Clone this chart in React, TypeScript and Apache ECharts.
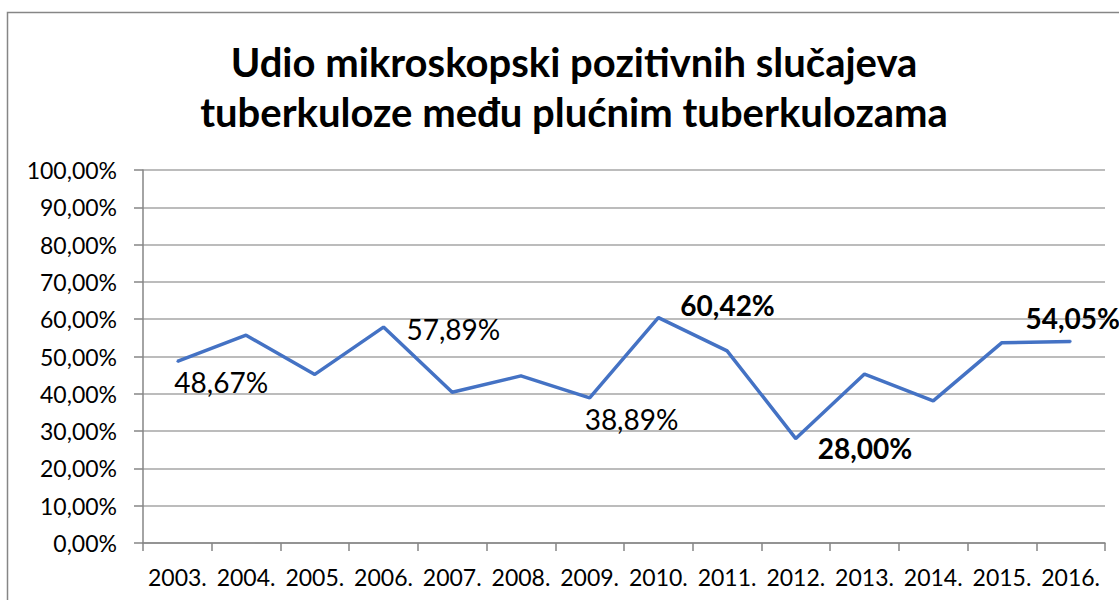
import React, { useEffect, useRef } from "react";
import * as echarts from "echarts";

const categories = ["2003.", "2004.", "2005.", "2006.", "2007.", "2008.", "2009.", "2010.", "2011.", "2012.", "2013.", "2014.", "2015.", "2016."];
const values = [48.67, 55.7, 45.2, 57.89, 40.4, 44.8, 38.89, 60.42, 51.5, 28.0, 45.3, 38.1, 53.7, 54.05];
const yTicks = [0, 10, 20, 30, 40, 50, 60, 70, 80, 90, 100];

const fmt = (v: number) => v.toFixed(2).replace(".", ",") + "%";

const labelCfg: Record<number, any> = {
  0: { position: "bottom", align: "left", distance: 6, offset: [-3, 0], fontWeight: "normal" },
  3: { position: "right", distance: 22, offset: [0, 2], fontWeight: "normal" },
  6: { position: "bottom", align: "left", distance: 6, offset: [-5, 0], fontWeight: "normal" },
  7: { position: "right", distance: 21, offset: [0, -13], fontWeight: "bold" },
  9: { position: "right", distance: 21, offset: [0, 9], fontWeight: "bold" },
  13: { position: "top", distance: 8, offset: [2, 0], fontWeight: "bold" },
};

export default function App() {
  const ref = useRef<HTMLDivElement>(null);
  useEffect(() => {
    if (!ref.current) return;
    const chart = echarts.init(ref.current, null, { renderer: "svg" });
    const data = values.map((v, i) => {
      const c = labelCfg[i];
      if (!c) return { value: v };
      return {
        value: v,
        label: {
          show: true,
          formatter: fmt(v),
          color: "#000",
          fontSize: 28,
          fontFamily: "Lato, sans-serif",
          ...c,
        },
      };
    });
    chart.setOption({
      animation: false,
      backgroundColor: "#fff",
      title: {
        text: "Udio mikroskopski pozitivnih slučajeva\ntuberkuloze među plućnim tuberkulozama",
        left: 569,
        textAlign: "center",
        top: 32,
        textStyle: {
          fontFamily: "Lato, sans-serif",
          fontWeight: "bold",
          fontSize: 40,
          lineHeight: 50,
          color: "#000",
        },
      },
      graphic: [
        {
          type: "rect",
          shape: { x: 7.5, y: 12.5, width: 1300, height: 800 },
          style: { fill: "none", stroke: "#868686", lineWidth: 1.5 },
          silent: true,
        },
      ],
      grid: { left: 143, right: 14, top: 170, bottom: 57, containLabel: false },
      xAxis: {
        type: "category",
        data: categories,
        boundaryGap: true,
        axisLine: { lineStyle: { color: "#868686", width: 1.5 } },
        axisTick: { show: true, length: 8, interval: 0, lineStyle: { color: "#868686", width: 1.5 } },
        axisLabel: { margin: 22, interval: 0, color: "#000", fontSize: 23, fontFamily: "Lato, sans-serif" },
      },
      yAxis: {
        type: "value",
        min: 0,
        max: 100,
        interval: 10,
        axisLine: { show: true, lineStyle: { color: "#868686", width: 1.5 } },
        axisTick: { show: true, length: 9, lineStyle: { color: "#868686", width: 1.5 } },
        splitLine: { lineStyle: { color: "#a6a6a6", width: 1.5 } },
        axisLabel: {
          margin: 26,
          color: "#000",
          fontSize: 23,
          fontFamily: "Lato, sans-serif",
          formatter: (v: number) => (yTicks.includes(v) ? fmt(v) : ""),
        },
      },
      series: [
        {
          type: "line",
          data,
          symbol: "circle",
          symbolSize: 2,
          showSymbol: true,
          itemStyle: { color: "#4472C4" },
          lineStyle: { color: "#4472C4", width: 3.5 },
          label: { show: false },
        },
      ],
    });
    return () => chart.dispose();
  }, []);
  return (
    <div
      ref={ref}
      style={{ position: "fixed", left: 0, top: 0, width: 1119, height: 600 }}
    />
  );
}
